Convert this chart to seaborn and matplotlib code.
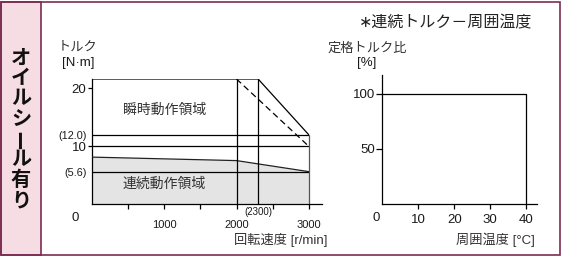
import matplotlib
matplotlib.use("Agg")
import matplotlib.pyplot as plt
import seaborn as sns
import pandas as pd
from matplotlib.patches import Rectangle

sns.set_theme(style="white")
plt.rcParams['font.family'] = ['Liberation Sans', 'Noto Sans CJK JP', 'DejaVu Sans']

# ---- data ----
speed_inst = [0, 2300, 3000]
torque_inst = [21.6, 21.6, 12.0]
speed_dash = [2000, 3000]
torque_dash = [21.6, 10.0]
speed_cont = [0, 2000, 3000]
torque_cont = [8.1, 7.5, 5.6]
ref_torques = [12.0, 10.0, 5.6]
ref_speeds = [2000, 2300]
y_ticks_left = [5.6, 10, 12.0, 20]
y_ticklabels_left = ["(5.6)", "10", "(12.0)", "20"]
x_ticks_left = [500, 1000, 1500, 2000, 2500, 3000]
x_ticklabels_left = ["", "1000", "", "2000", "", "3000"]

temp = [0, 40, 40]
ratio = [100, 100, 0]
x_ticks_right = [10, 20, 30, 40]
y_ticks_right = [50, 100]

W, H = 563, 259
fig = plt.figure(figsize=(W / 100, H / 100), dpi=100)
fig.patch.set_facecolor("white")

def px_rect(x0, y0, x1, y1):
    return [x0 / W, 1 - y1 / H, (x1 - x0) / W, (y1 - y0) / H]

border = "#7b2d52"
fig.patches.append(Rectangle((1 / W, 1 - 255 / H), 40 / W, 253 / H, transform=fig.transFigure,
                             facecolor="#f5dde3", edgecolor=border, lw=1.2, zorder=0))
fig.patches.append(Rectangle((1 / W, 1 - 255 / H), 559 / W, 253 / H, transform=fig.transFigure,
                             facecolor="none", edgecolor=border, lw=1.2, zorder=0))

label = "オイルシール有り"
for i, ch in enumerate(label):
    yc = 57 + i * 20.4
    rot = 90 if ch == "ー" else 0
    fig.text(21 / W, 1 - yc / H, ch, ha="center", va="center", fontsize=14.5,
             fontweight="bold", rotation=rot, color="#111111",
             family=['Noto Sans CJK JP'])

lw = 0.9
txt = "#1a1a1a"
jp = "#333333"

# ---- left chart ----
axL = fig.add_axes(px_rect(92.3, 79, 322.3, 204))
axL.set_xlim(0, 3190)
axL.set_ylim(0, 21.6)
axL.fill_between(speed_cont, torque_cont, 0, color="#e4e4e4", lw=0, zorder=1)
sns.lineplot(x=speed_cont, y=torque_cont, ax=axL, color="#222222", lw=lw, zorder=3,
             estimator=None, sort=False)
sns.lineplot(x=speed_inst, y=torque_inst, ax=axL, color="black", lw=lw, zorder=3,
             estimator=None, sort=False)
sns.lineplot(x=speed_dash, y=torque_dash, ax=axL, color="black", lw=lw, zorder=3,
             linestyle=(0, (5, 3)), estimator=None, sort=False)
axL.hlines(ref_torques, 0, speed_inst[-1], color="black", lw=lw, zorder=3)
axL.vlines(ref_speeds, 0, torque_inst[0], color="black", lw=lw, zorder=3)
axL.vlines([speed_inst[-1]], 0, torque_inst[-1], color="#555555", lw=lw, zorder=3)

for s in ["top", "right"]:
    axL.spines[s].set_visible(False)
for s in ["left", "bottom"]:
    axL.spines[s].set_color("black")
    axL.spines[s].set_linewidth(lw)
axL.set_xticks(x_ticks_left)
axL.set_xticklabels(x_ticklabels_left, fontsize=8, color=txt)
axL.set_yticks(y_ticks_left)
axL.set_yticklabels(y_ticklabels_left, color=txt)
axL.tick_params(axis="x", direction="out", length=3.5, width=lw, pad=8, colors="black",
                labelcolor=txt, bottom=True)
axL.tick_params(axis="y", direction="out", length=3, width=lw, pad=1.2, colors="black",
                labelcolor=txt, left=True)
for t, lab in zip(axL.yaxis.get_major_ticks(), y_ticklabels_left):
    if lab.startswith("("):
        t.label1.set_fontsize(7.8)
        t.tick1line.set_visible(False)
    else:
        t.label1.set_fontsize(9.5)
axL.set_xlabel("")
axL.set_ylabel("")
axL.annotate("0", xy=(0, 0), xytext=(-17, -14), textcoords="offset pixels",
             ha="center", va="center", fontsize=9.5, color=txt)
axL.annotate("(2300)", xy=(ref_speeds[1], 0), xytext=(0, -8), textcoords="offset pixels",
             ha="center", va="center", fontsize=7, color=txt)
axL.text(1000, 16.2, "瞬時動作領域", ha="center", va="center", fontsize=10, color=jp)
axL.text(1000, 3.5, "連続動作領域", ha="center", va="center", fontsize=10, color=jp)

fig.text(77.5 / W, 1 - 48 / H, "トルク", ha="center", va="center", fontsize=9.5, color=jp)
fig.text(78 / W, 1 - 63 / H, "[N·m]", ha="center", va="center", fontsize=9.5, color=txt)
fig.text(327 / W, 1 - 240 / H, "回転速度 [r/min]", ha="right", va="center", fontsize=9.5,
         color=jp)

# ---- right chart ----
axR = fig.add_axes(px_rect(382.2, 75, 537, 204))
axR.set_xlim(0, 43)
axR.set_ylim(0, 117)
sns.lineplot(x=temp, y=ratio, ax=axR, color="black", lw=lw, sort=False, estimator=None)
for s in ["top", "right"]:
    axR.spines[s].set_visible(False)
for s in ["left", "bottom"]:
    axR.spines[s].set_color("black")
    axR.spines[s].set_linewidth(lw)
axR.set_xticks(x_ticks_right)
axR.set_xticklabels([str(v) for v in x_ticks_right], fontsize=9.5, color=txt)
axR.set_yticks(y_ticks_right)
axR.set_yticklabels([str(v) for v in y_ticks_right], fontsize=9.5, color=txt)
axR.tick_params(axis="x", direction="out", length=3.5, width=lw, pad=3.5, bottom=True,
                colors="black", labelcolor=txt)
axR.tick_params(axis="y", direction="out", length=4, width=lw, pad=1.2, left=True,
                colors="black", labelcolor=txt)
axR.set_xlabel("")
axR.set_ylabel("")
axR.annotate("0", xy=(0, 0), xytext=(-6, -14), textcoords="offset pixels",
             ha="center", va="center", fontsize=9.5, color=txt)

fig.text(532 / W, 1 - 22.5 / H, "∗連続トルク－周囲温度", ha="right", va="center", fontsize=11.5,
         color="#222222")
fig.text(367.5 / W, 1 - 49 / H, "定格トルク比", ha="center", va="center", fontsize=9.5,
         color=jp)
fig.text(366.5 / W, 1 - 63 / H, "[%]", ha="center", va="center", fontsize=9.5, color=txt)
fig.text(535 / W, 1 - 240 / H, "周囲温度 [°C]", ha="right", va="center", fontsize=9.5,
         color=jp)

fig.savefig("out.png", dpi=100)
